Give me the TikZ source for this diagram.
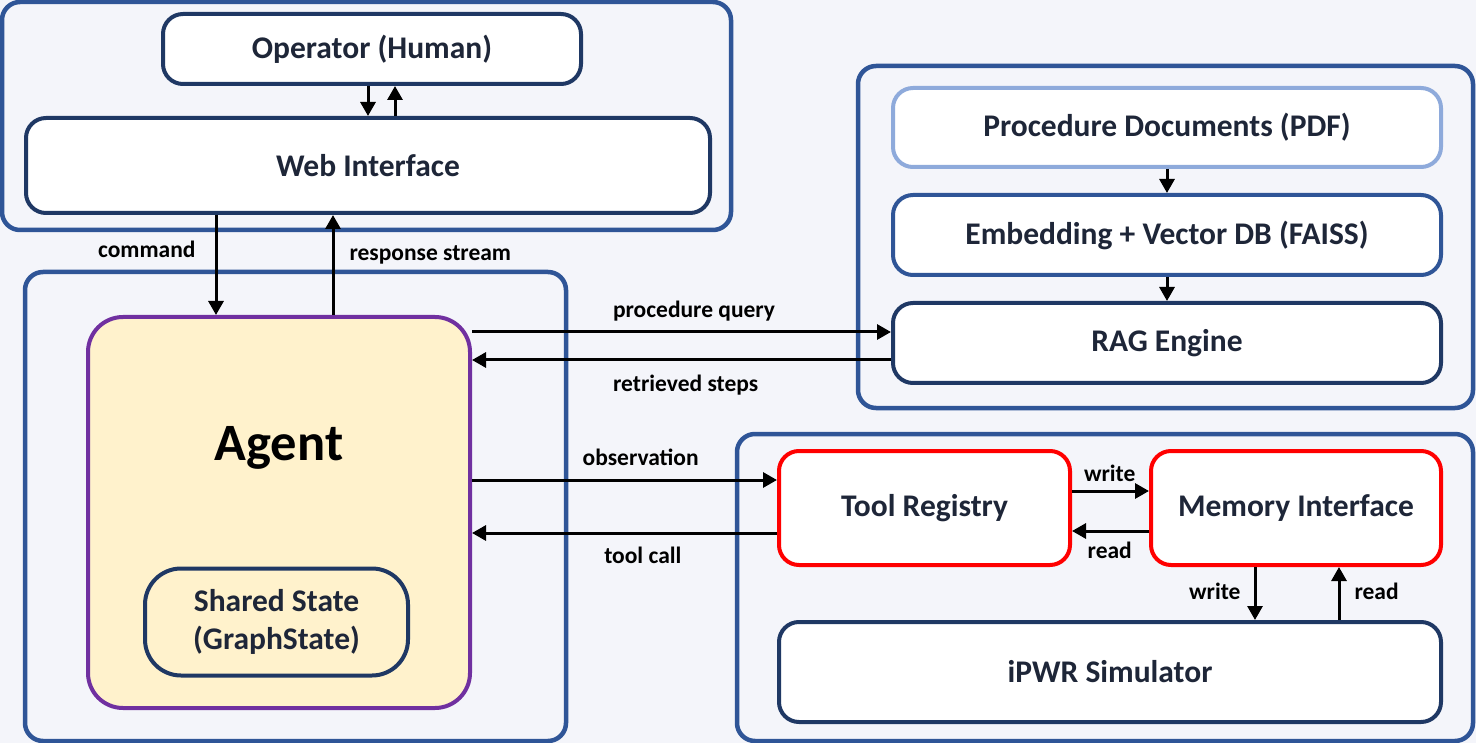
\documentclass[tikz,border=0pt]{standalone}
\usepackage{fontspec}
\setmainfont{Carlito}
\usetikzlibrary{arrows.meta,positioning}

\definecolor{bgGray}{HTML}{F4F5FA}
\definecolor{panelBlue}{HTML}{2F5597}
\definecolor{navy}{HTML}{1F3864}
\definecolor{paleBlue}{HTML}{8EAADB}
\definecolor{agentPurple}{HTML}{7030A0}
\definecolor{cream}{HTML}{FFF2CC}
\definecolor{blockText}{HTML}{1E2638}

\newcommand{\blockfont}{\fontsize{31.5}{38}\selectfont\bfseries}
\newcommand{\edgefont}{\fontsize{23.5}{28}\selectfont\bfseries}

\begin{document}
\begin{tikzpicture}[x=1pt,y=-1pt,
  panel/.style={draw=panelBlue, line width=4.5pt, fill=bgGray, rounded corners=18pt, inner sep=0pt},
  block/.style={draw=navy, line width=4pt, fill=white, rounded corners=20pt, font=\blockfont, text=blockText, align=center, inner sep=0pt},
  flow/.style={line width=3pt, -{Triangle[length=14pt,width=15pt]}},
  lbl/.style={font=\edgefont, inner sep=0pt}]
% Page
\useasboundingbox (0,0) rectangle (1476,743);
\fill[bgGray] (0,0) rectangle (1476,743);
% Panels
\node[panel, minimum width=729pt, minimum height=228pt] (uiPanel) at (366.5,116) {};
\node[panel, minimum width=615pt, minimum height=342pt] (ragPanel) at (1165.5,237) {};
\node[panel, minimum width=541pt, minimum height=469pt] (agentPanel) at (295.5,506.5) {};
\node[panel, minimum width=736pt, minimum height=307pt] (toolPanel) at (1105,587.5) {};
% User side
\node[block, minimum width=418pt, minimum height=70pt] (operator) at (372,49) {Operator (Human)};
\node[block, minimum width=684pt, minimum height=95pt] (web) at (368,165.5) {Web Interface};
% Agent
\node[block, draw=agentPurple, fill=cream, rounded corners=35pt, minimum width=382pt, minimum height=391pt] (agent) at (279,512.5) {};
\node[font=\fontsize{52.5}{60}\selectfont\bfseries] (agentName) at (279,448) {Agent};
\node[block, fill=cream, rounded corners=36pt, minimum width=263pt, minimum height=107pt] (shared) at (276.5,622) {Shared State\\(GraphState)};
% Retrieval
\node[block, draw=paleBlue, minimum width=548pt, minimum height=79pt] (pdf) at (1167,127.5) {Procedure Documents (PDF)};
\node[block, draw=panelBlue, minimum width=548pt, minimum height=80pt, below=24pt of pdf] (embed) {Embedding + Vector DB (FAISS)};
\node[block, minimum width=548pt, minimum height=80pt, below=24pt of embed] (rag) {RAG Engine};
% Tools
\node[block, draw=red, minimum width=291pt, minimum height=114pt] (tools) at (924.5,508) {Tool Registry};
\node[block, draw=red, minimum width=290pt, minimum height=114pt] (memory) at (1296,508) {Memory Interface};
\node[block, minimum width=662pt, minimum height=100pt] (sim) at (1110,672) {iPWR Simulator};

% Connectors
\draw[flow] (web.north |- operator.south) -- (web.north);
\draw[flow] ([xshift=27pt]web.north) -- ([xshift=27pt]web.north |- operator.south);
\draw[flow] (web.south -| 216,0) -- node[lbl, pos=0.34, left=19pt] {command} (agent.north -| 216,0);
\draw[flow] (agent.north -| 333,0) -- node[lbl, pos=0.6, right=15pt] {response stream} (web.south -| 333,0);
\draw[flow] (agent.east |- 0,332) -- node[lbl, pos=0.53, above=9pt] {procedure query} (rag.west |- 0,332);
\draw[flow] (rag.west |- 0,360) -- node[lbl, pos=0.49, below=14pt] {retrieved steps} (agent.east |- 0,360);
\draw[flow] (agent.east |- 0,480) -- node[lbl, pos=0.553, above=13pt] {observation} (tools.west |- 0,480);
\draw[flow] (tools.west |- 0,533) -- node[lbl, pos=0.44, below=13pt] {tool call} (agent.east |- 0,533);
\draw[flow] (pdf) -- (embed);
\draw[flow] (embed) -- (rag);
\draw[flow] (tools.east |- 0,491) -- node[lbl, pos=0.49, above=8pt] {write} (memory.west |- 0,491);
\draw[flow] (memory.west |- 0,531) -- node[lbl, pos=0.51, below=10pt] {read} (tools.east |- 0,531);
\draw[flow] (memory.south -| 1255,0) -- node[lbl, pos=0.46, left=13pt] {write} (sim.north -| 1255,0);
\draw[flow] (sim.north -| 1339,0) -- node[lbl, pos=0.54, right=14pt] {read} (memory.south -| 1339,0);
\end{tikzpicture}
\end{document}
